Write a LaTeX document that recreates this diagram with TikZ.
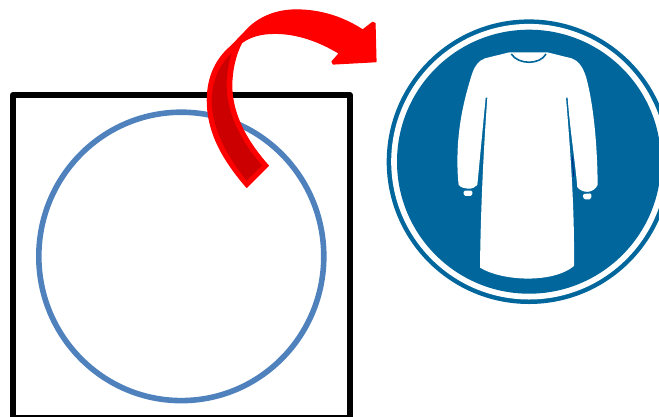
\documentclass[tikz,border=0pt]{standalone}
\usetikzlibrary{shapes.geometric}
\definecolor{ringblue}{HTML}{4F81BD}
\definecolor{signblue}{HTML}{00669B}
\definecolor{arrowred}{HTML}{FF0000}
\definecolor{arrowdark}{HTML}{CC0000}
\tikzset{
  blackbox/.style={draw=black,line width=5.6pt,line join=round},
  ringcircle/.style={draw=ringblue,line width=5.6pt},
  signfill/.style={fill=signblue,draw=none},
  gownfill/.style={fill=white,draw=none},
}
\begin{document}
\begin{tikzpicture}[x=1pt,y=-1pt]
\useasboundingbox (0,0) rectangle (659,416);
\begin{scope}
\clip (0,0) rectangle (659,416);
\draw[blackbox] (13,94.8) rectangle (350,417.5);
\node[ellipse,ringcircle,minimum width=285pt,minimum height=288.4pt,inner sep=0pt,outer sep=0pt] (ring) at (181.3,256.4) {};
% sign
\fill[signfill] (529,161.7) circle (142.3);
\fill[white] (529,161.7) circle (137.8);
\fill[signfill] (529,161.7) circle (132);
\begin{scope}[shift={(440,30)},x=0.3333pt,y=-0.3333pt]
\fill[gownfill] (208,67) -- (135,85)
  .. controls (115,92) and (103,110) .. (95,135)
  .. controls (75,200) and (60,260) .. (54,340)
  .. controls (51,390) and (52,430) .. (56,465)
  .. controls (70,480) and (100,480) .. (112,465)
  -- (137,203) -- (142,203)
  .. controls (130,370) and (122,540) .. (120,713)
  .. controls (190,755) and (340,760) .. (402,708)
  .. controls (404,540) and (392,370) .. (378,203)
  -- (383,203)
  .. controls (390,300) and (405,390) .. (412,472)
  .. controls (430,492) and (460,490) .. (473,465)
  .. controls (472,340) and (460,220) .. (438,140)
  .. controls (428,110) and (415,92) .. (395,85)
  -- (322,67) -- cycle;
\draw[signblue,line width=1.6pt] (214,72) .. controls (235,105) and (300,105) .. (318,72);
\fill[gownfill,rounded corners=1.5pt] (70,482) -- (98,482) -- (96,498) -- (72,498) -- cycle;
\fill[gownfill,rounded corners=1.5pt] (428,492) -- (455,490) -- (453,508) -- (431,508) -- cycle;
\draw[blue!50!black,line width=0.5pt] (397,380) -- (401,440);
\end{scope}
% arrow
\begin{scope}[shift={(200,0)},x=0.3333pt,y=-0.3333pt]
\fill[arrowred,draw=arrowred,line width=1.2pt,line join=round]
  (92,140) -- (150,80)
  .. controls (195,40) and (250,28) .. (300,30)
  .. controls (370,32) and (435,55) .. (488,90)
  -- (518,67) -- (525,70) -- (528,185) -- (400,192) -- (396,185) -- (418,160)
  .. controls (355,122) and (290,100) .. (225,100)
  .. controls (180,100) and (150,110) .. (125,128)
  .. controls (105,165) and (95,215) .. (95,260)
  .. controls (97,350) and (145,430) .. (205,497)
  -- (140,562)
  .. controls (70,480) and (22,400) .. (22,300)
  .. controls (22,230) and (50,175) .. (92,140) -- cycle;
\fill[arrowdark]
  (95,160)
  .. controls (55,195) and (35,250) .. (35,305)
  .. controls (37,390) and (85,475) .. (140,542)
  -- (186,497)
  .. controls (125,425) and (82,345) .. (80,260)
  .. controls (80,225) and (85,190) .. (95,160) -- cycle;
\end{scope}
\end{scope}
\end{tikzpicture}
\end{document}
